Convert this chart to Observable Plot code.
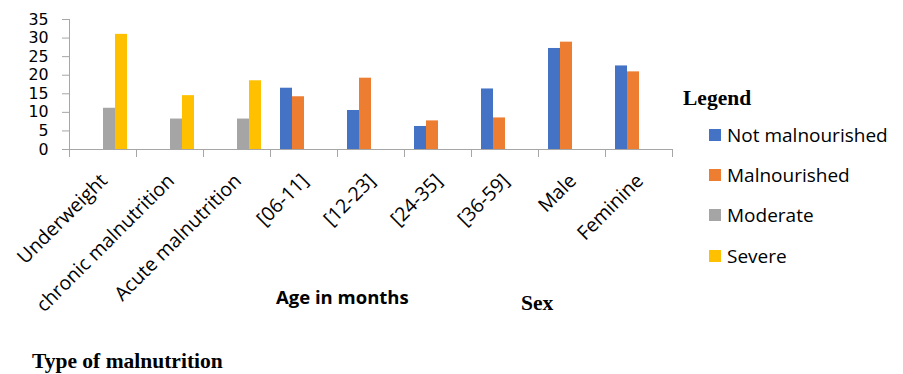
<!DOCTYPE html>
<html>
<head>
<meta charset="utf-8">
<script src="https://cdn.jsdelivr.net/npm/d3@7"></script>
<script src="https://cdn.jsdelivr.net/npm/@observablehq/plot@0.6"></script>
<style>
  html, body { margin: 0; padding: 0; background: #fff; }
  #wrap { position: relative; width: 903px; height: 374px; overflow: hidden; background: #fff; }
  #wrap svg { position: absolute; left: 0; top: 0; }
  .ttl { position: absolute; white-space: nowrap; line-height: 1; color: #000; }
  .serif { font-family: "Liberation Serif", "Times New Roman", serif; font-weight: bold; font-size: 21.5px; }
  .sans { font-family: "Open Sans", sans-serif; font-weight: bold; font-size: 18.5px; }
  .leg { position: absolute; left: 709px; height: 20px; display: flex; align-items: center; font-family: "Open Sans", sans-serif; font-size: 19px; line-height: 20px; white-space: nowrap; color: #000; }
  .leg .sw { width: 12px; height: 12px; margin-right: 6px; flex: none; }
</style>
</head>
<body>
<div id="wrap"></div>
<script>
// ---- data ----
const categories = ["Underweight", "chronic malnutrition", "Acute malnutrition", "[06-11]", "[12-23]", "[24-35]", "[36-59]", "Male", "Feminine"];
const series = ["Not malnourished", "Malnourished", "Moderate", "Severe"];
const notMalnourished = [null, null, null, 16.5, 10.5, 6.2, 16.3, 27.2, 22.5];
const malnourished    = [null, null, null, 14.2, 19.2, 7.7, 8.5, 28.9, 20.9];
const moderate        = [11.1, 8.2, 8.2, null, null, null, null, null, null];
const severe          = [31.0, 14.5, 18.5, null, null, null, null, null, null];
const yTicks = [0, 5, 10, 15, 20, 25, 30, 35];
const colors = ["#4472C4", "#ED7D31", "#A5A5A5", "#FFC000"];

const seriesValues = [notMalnourished, malnourished, moderate, severe];
const rows = [];
categories.forEach((c, i) => {
  series.forEach((s, j) => {
    const v = seriesValues[j][i];
    if (v != null) rows.push({category: c, series: s, value: v});
  });
});

// ---- layout ----
const W = 903, H = 374;
const mTop = 19, mLeft = 68, mRight = 230, yBase = 149;
const mBottom = H - yBase;
const plotH = yBase - mTop;
const axisGray = "#A6A6A6";

const chart = Plot.plot({
  width: W,
  height: H,
  marginTop: mTop,
  marginLeft: mLeft,
  marginRight: mRight,
  marginBottom: mBottom,
  style: {fontFamily: "Open Sans, sans-serif", fontSize: "18px", color: "#000", background: "transparent"},
  fx: {domain: categories, padding: 0, axis: null, label: null},
  x: {domain: series, paddingInner: 0, paddingOuter: 0.73, axis: null},
  y: {domain: [0, 35], axis: null},
  color: {domain: series, range: colors},
  marks: [
    Plot.barY(rows, {fx: "category", x: "series", y: "value", fill: "series"}),
    Plot.ruleY([0], {stroke: axisGray}),
    Plot.frame({anchor: "left", facetAnchor: "left", stroke: axisGray}),
    // category boundary ticks below the axis
    Plot.frame({anchor: "left", stroke: axisGray, insetTop: plotH, insetBottom: -7}),
    Plot.frame({anchor: "right", facetAnchor: "right", stroke: axisGray, insetTop: plotH, insetBottom: -7}),
    Plot.axisY({ticks: yTicks, tickSize: 7, tickPadding: 14, stroke: axisGray, fill: "#000", fontSize: 15.8, fontFamily: "DejaVu Sans, sans-serif", label: null, tickFormat: d => String(d)}),
    Plot.axisFx({anchor: "bottom", tickRotate: -45, tickSize: 0, tickPadding: 28, dx: 1, fontSize: 19.5, label: null, fill: "#000"})
  ]
});

const wrap = document.getElementById("wrap");
wrap.appendChild(chart);

function addText(txt, cls, left, top) {
  const d = document.createElement("div");
  d.className = "ttl " + cls;
  d.textContent = txt;
  d.style.left = left + "px";
  d.style.top = top + "px";
  wrap.appendChild(d);
}
addText("Legend", "serif", 683, 88);
addText("Age in months", "sans", 276, 288);
addText("Sex", "serif", 521, 293);
addText("Type of malnutrition", "serif", 32, 351);

series.forEach((s, i) => {
  const row = document.createElement("div");
  row.className = "leg";
  row.style.top = (135 + 40.2 * i - 10) + "px";
  const sw = document.createElement("span");
  sw.className = "sw";
  sw.style.background = colors[i];
  const t = document.createElement("span");
  t.textContent = s;
  row.appendChild(sw);
  row.appendChild(t);
  wrap.appendChild(row);
});
</script>
</body>
</html>
